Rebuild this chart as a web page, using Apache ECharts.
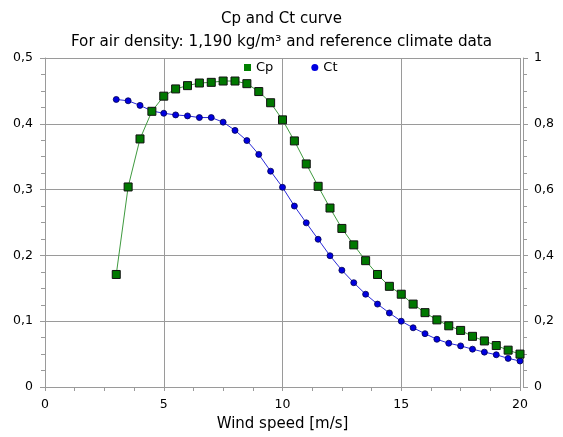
<!DOCTYPE html>
<html>
<head>
<meta charset="utf-8">
<script src="https://cdn.jsdelivr.net/npm/echarts@6/dist/echarts.min.js"></script>
<style>
html,body{margin:0;padding:0;background:#fff;}
#c{width:563px;height:437px;}
</style>
</head>
<body>
<div id="c"></div>
<script>
var windSpeed = [3, 3.5, 4, 4.5, 5, 5.5, 6, 6.5, 7, 7.5, 8, 8.5, 9, 9.5, 10, 10.5, 11, 11.5, 12, 12.5, 13, 13.5, 14, 14.5, 15, 15.5, 16, 16.5, 17, 17.5, 18, 18.5, 19, 19.5, 20];
var cpValues = [0.171, 0.304, 0.377, 0.419, 0.442, 0.453, 0.458, 0.462, 0.463, 0.465, 0.465, 0.461, 0.449, 0.432, 0.406, 0.374, 0.339, 0.305, 0.272, 0.241, 0.216, 0.192, 0.171, 0.153, 0.141, 0.126, 0.113, 0.102, 0.093, 0.086, 0.077, 0.070, 0.063, 0.056, 0.050];
var ctValues = [0.874, 0.870, 0.856, 0.839, 0.832, 0.827, 0.824, 0.819, 0.819, 0.805, 0.780, 0.749, 0.707, 0.656, 0.607, 0.550, 0.499, 0.449, 0.399, 0.355, 0.317, 0.282, 0.252, 0.225, 0.200, 0.180, 0.162, 0.145, 0.133, 0.125, 0.115, 0.106, 0.098, 0.087, 0.079];
var titleText = 'Cp and Ct curve';
var subtitleText = 'For air density: 1,190 kg/m\u00B3 and reference climate data';
var xAxisName = 'Wind speed [m/s]';

function pairs(xs, ys) { return xs.map(function (x, i) { return [x, ys[i]]; }); }
function comma(v) { return String(+v.toFixed(3)).replace('.', ','); }

var FONT = 'DejaVu Sans';
var axisGray = '#9a9a9a';
var chart = echarts.init(document.getElementById('c'), null, { renderer: 'canvas' });
chart.setOption({
  animation: false,
  backgroundColor: '#fff',
  textStyle: { fontFamily: FONT },
  title: {
    text: titleText,
    subtext: subtitleText,
    left: 'center',
    top: 7,
    itemGap: 8,
    textStyle: { fontFamily: FONT, fontSize: 15, fontWeight: 'normal', color: '#000' },
    subtextStyle: { fontFamily: FONT, fontSize: 15.2, color: '#000' }
  },
  legend: {
    left: 239,
    top: 56,
    itemWidth: 7,
    itemHeight: 7,
    itemGap: 38,
    textStyle: { fontFamily: FONT, fontSize: 13, color: '#000' },
    data: [
      { name: 'Cp', icon: 'rect', itemStyle: { color: '#008000', borderWidth: 0 } },
      { name: 'Ct', icon: 'circle', itemStyle: { color: '#0000e0', borderWidth: 0 } }
    ]
  },
  grid: { left: 45, right: 43, top: 58, bottom: 48, containLabel: false },
  xAxis: {
    type: 'value',
    min: 0, max: 20, interval: 5,
    name: xAxisName,
    nameLocation: 'middle',
    nameGap: 30,
    nameTextStyle: { fontFamily: FONT, fontSize: 15, color: '#000' },
    axisLine: { show: true, lineStyle: { color: axisGray, width: 1 } },
    axisTick: { show: true, inside: false, length: 4, lineStyle: { color: axisGray } },
    minorTick: { show: true, splitNumber: 4, length: 4, lineStyle: { color: axisGray } },
    axisLabel: { fontFamily: FONT, fontSize: 12.5, color: '#000', margin: 11, formatter: comma },
    splitLine: { show: true, lineStyle: { color: axisGray, width: 1 } }
  },
  yAxis: [
    {
      type: 'value',
      min: 0, max: 0.5, interval: 0.1,
      axisLine: { show: true, lineStyle: { color: axisGray, width: 1 } },
      axisTick: { show: true, inside: false, length: 5, lineStyle: { color: axisGray } },
      minorTick: { show: true, splitNumber: 4, length: 4, lineStyle: { color: axisGray } },
      axisLabel: { fontFamily: FONT, fontSize: 12.5, color: '#000', margin: 12, formatter: comma },
      splitLine: { show: true, lineStyle: { color: axisGray, width: 1 } }
    },
    {
      type: 'value',
      position: 'right',
      offset: 3,
      min: 0, max: 1, interval: 0.2,
      axisLine: { show: true, lineStyle: { color: axisGray, width: 1 } },
      axisTick: { show: true, inside: false, length: 5, lineStyle: { color: axisGray } },
      minorTick: { show: true, splitNumber: 4, length: 4, lineStyle: { color: axisGray } },
      axisLabel: { fontFamily: FONT, fontSize: 12.5, color: '#000', margin: 11, formatter: comma },
      splitLine: { show: false }
    }
  ],
  series: [
    {
      name: 'Ct',
      type: 'line',
      yAxisIndex: 1,
      data: pairs(windSpeed, ctValues),
      symbol: 'circle',
      symbolSize: 6,
      lineStyle: { color: '#2a2ad8', width: 1 },
      itemStyle: { color: '#0000e0', borderColor: '#000050', borderWidth: 0.8 },
      z: 2
    },
    {
      name: 'Cp',
      type: 'line',
      yAxisIndex: 0,
      data: pairs(windSpeed, cpValues),
      symbol: 'rect',
      symbolSize: 8,
      lineStyle: { color: '#3f9a3f', width: 1 },
      itemStyle: { color: '#007800', borderColor: '#111', borderWidth: 1 },
      z: 3
    }
  ]
});
</script>
</body>
</html>
